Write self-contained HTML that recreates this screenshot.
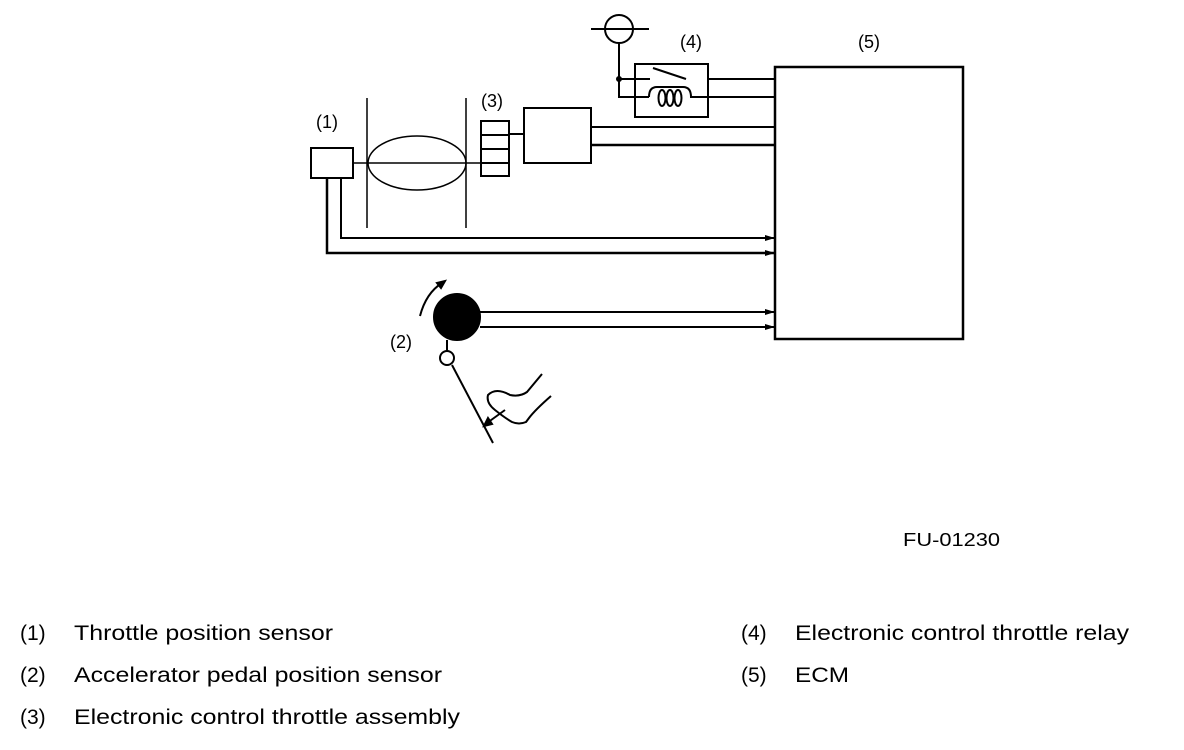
<!DOCTYPE html>
<html><head><meta charset="utf-8"><style>
html,body{margin:0;padding:0;background:#fff}
svg{display:block}
text{font-family:"Liberation Sans",sans-serif;fill:#000}
</style></head><body>
<svg width="1184" height="750" viewBox="0 0 1184 750" xmlns="http://www.w3.org/2000/svg">
<defs><marker id="a" markerWidth="10" markerHeight="8" refX="10" refY="4" orient="auto" markerUnits="userSpaceOnUse"><path d="M0,1 L10,4 L0,7 Z" fill="#000"/></marker></defs>
<g fill="none" stroke="#000" stroke-width="2">
<rect x="775" y="67" width="188" height="272" stroke-width="2.5"/>
<circle cx="619" cy="29" r="14"/>
<line x1="591" y1="29" x2="649" y2="29"/>
<polyline points="619,43 619,97 649,97"/>
<line x1="619" y1="79" x2="650" y2="79"/>
<circle cx="619" cy="79" r="2" fill="#000"/>
<line x1="653" y1="68" x2="686" y2="79"/>
<line x1="708" y1="79" x2="775" y2="79"/>
<path d="M649,97 Q649,87 657,87 L683,87 Q691,87 691,97 L775,97"/>
<ellipse cx="662" cy="98" rx="3.5" ry="8"/>
<ellipse cx="670" cy="98" rx="3.5" ry="8"/>
<ellipse cx="678" cy="98" rx="3.5" ry="8"/>
<rect x="635" y="64" width="73" height="53"/>
<rect x="311" y="148" width="42" height="30"/>
<ellipse cx="417" cy="163" rx="49" ry="27" stroke-width="1.5"/>
<line x1="367" y1="98" x2="367" y2="228" stroke-width="1.5"/>
<line x1="466" y1="98" x2="466" y2="228" stroke-width="1.5"/>
<line x1="353" y1="163" x2="481" y2="163" stroke-width="1.5"/>
<rect x="481" y="121" width="28" height="55"/>
<line x1="481" y1="135" x2="509" y2="135"/>
<line x1="481" y1="149" x2="509" y2="149"/>
<line x1="481" y1="163" x2="509" y2="163"/>
<line x1="509" y1="134" x2="524" y2="134"/>
<rect x="524" y="108" width="67" height="55"/>
<line x1="591" y1="127" x2="775" y2="127"/>
<line x1="591" y1="145" x2="775" y2="145" stroke-width="2.5"/>
<polyline points="341,178 341,238 775,238" marker-end="url(#a)"/>
<polyline points="327,178 327,253 775,253" stroke-width="2.5" marker-end="url(#a)"/>
<circle cx="457" cy="317" r="23" fill="#000"/>
<line x1="480" y1="312" x2="775" y2="312" marker-end="url(#a)"/>
<line x1="480" y1="327" x2="775" y2="327" marker-end="url(#a)"/>
<line x1="447" y1="340" x2="447" y2="351"/>
<circle cx="447" cy="358" r="7"/>
<line x1="452" y1="365" x2="493" y2="443"/>
<path d="M420,316 Q426,293 442,283"/>
<path d="M437,283 L445,281 L441,288 Z" fill="#000"/>
<path d="M542,374 L527,392 Q520,397 510,395 Q496,387 488,395 Q486,403 495,410 Q505,418 512,422 Q519,425 526,422 L529,418 Q535,410 551,396"/>
<line x1="505" y1="410" x2="487" y2="423"/>
<path d="M484,426 L488,418 L492,424 Z" fill="#000"/>
</g>
<g font-size="18">
<text x="316" y="128">(1)</text>
<text x="390" y="348">(2)</text>
<text x="481" y="107">(3)</text>
<text x="680" y="48">(4)</text>
<text x="858" y="48">(5)</text>
<text x="903" y="546" textLength="97" lengthAdjust="spacingAndGlyphs">FU-01230</text>
</g>
<g font-size="21">
<text x="20" y="640">(1)</text><text x="74" y="640" textLength="259" lengthAdjust="spacingAndGlyphs">Throttle position sensor</text>
<text x="20" y="682">(2)</text><text x="74" y="682" textLength="368" lengthAdjust="spacingAndGlyphs">Accelerator pedal position sensor</text>
<text x="20" y="724">(3)</text><text x="74" y="724" textLength="386" lengthAdjust="spacingAndGlyphs">Electronic control throttle assembly</text>
<text x="741" y="640">(4)</text><text x="795" y="640" textLength="334" lengthAdjust="spacingAndGlyphs">Electronic control throttle relay</text>
<text x="741" y="682">(5)</text><text x="795" y="682" textLength="54" lengthAdjust="spacingAndGlyphs">ECM</text>
</g>
</svg>
</body></html>
